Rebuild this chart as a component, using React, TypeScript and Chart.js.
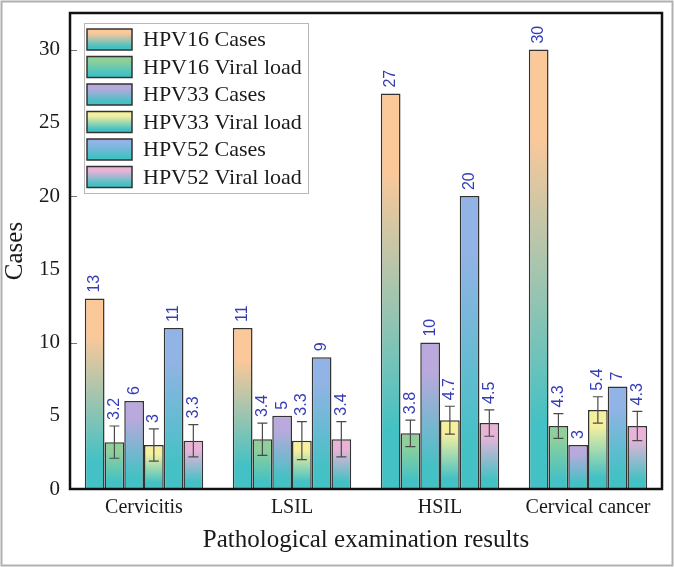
import React, { useEffect, useRef } from "react";
import { Chart, registerables } from "chart.js";

Chart.register(...registerables);

const categories = ["Cervicitis", "LSIL", "HSIL", "Cervical cancer"];
const seriesNames = [
  "HPV16 Cases",
  "HPV16 Viral load",
  "HPV33 Cases",
  "HPV33 Viral load",
  "HPV52 Cases",
  "HPV52 Viral load",
];
const hpv16Cases = [13, 11, 27, 30];
const hpv16Load = [3.2, 3.4, 3.8, 4.3];
const hpv33Cases = [6, 5, 10, 3];
const hpv33Load = [3, 3.3, 4.7, 5.4];
const hpv52Cases = [11, 9, 20, 7];
const hpv52Load = [3.3, 3.4, 4.5, 4.3];
const hpv16LoadErr = [1.1, 1.1, 0.9, 0.85];
const hpv33LoadErr = [1.1, 1.3, 0.95, 0.9];
const hpv52LoadErr = [1.1, 1.2, 0.9, 1.0];
const yTicks = [0, 5, 10, 15, 20, 25, 30];
const yMarks = [0, 10, 20, 30];
const yMax = 32.5;

const topColors = ["#fbc89a", "#8fd09a", "#b9a9dd", "#f6f09e", "#92b3e5", "#e9b3d8"];
const baseColor = "#44c1c4";

const seriesValues = [hpv16Cases, hpv16Load, hpv33Cases, hpv33Load, hpv52Cases, hpv52Load];
const seriesErrors: (number[] | null)[] = [null, hpv16LoadErr, null, hpv33LoadErr, null, hpv52LoadErr];

const SERIF = "'Liberation Serif', 'Times New Roman', serif";
const SANS = "'Liberation Sans', Arial, sans-serif";

function makeGradient(ctx: CanvasRenderingContext2D, top: number, bottom: number, color: string) {
  const g = ctx.createLinearGradient(0, top, 0, bottom);
  g.addColorStop(0, color);
  g.addColorStop(0.2, color);
  g.addColorStop(0.85, baseColor);
  g.addColorStop(1, baseColor);
  return g;
}

const decorPlugin = {
  id: "decor",
  beforeDraw(chart: any) {
    const ctx = chart.ctx;
    ctx.save();
    ctx.fillStyle = "#ffffff";
    ctx.fillRect(0, 0, chart.width, chart.height);
    ctx.strokeStyle = "#b0b0b0";
    ctx.lineWidth = 2;
    ctx.strokeRect(1.5, 1.5, chart.width - 3, chart.height - 3);
    ctx.restore();
  },
  afterDatasetsDraw(chart: any) {
    const ctx = chart.ctx;
    const y = chart.scales.y;
    ctx.save();
    chart.data.datasets.forEach((ds: any, di: number) => {
      const errs = seriesErrors[di];
      const meta = chart.getDatasetMeta(di);
      meta.data.forEach((bar: any, i: number) => {
        const v = ds.data[i];
        let topPx = y.getPixelForValue(v);
        if (errs) {
          const e = errs[i];
          const yt = y.getPixelForValue(v + e);
          const yb = y.getPixelForValue(v - e);
          ctx.strokeStyle = "#4a4a4a";
          ctx.lineWidth = 1.2;
          ctx.beginPath();
          ctx.moveTo(bar.x, yt);
          ctx.lineTo(bar.x, yb);
          ctx.moveTo(bar.x - 5, yt);
          ctx.lineTo(bar.x + 5, yt);
          ctx.moveTo(bar.x - 5, yb);
          ctx.lineTo(bar.x + 5, yb);
          ctx.stroke();
          topPx = Math.min(topPx, yt);
        }
        ctx.save();
        ctx.translate(bar.x, topPx - 6);
        ctx.rotate(-Math.PI / 2);
        ctx.font = `16px ${SANS}`;
        ctx.fillStyle = "#353cb5";
        ctx.textAlign = "left";
        ctx.textBaseline = "middle";
        ctx.fillText(String(v), 0, 0);
        ctx.restore();
      });
    });
    ctx.restore();
  },
  afterDraw(chart: any) {
    const ctx = chart.ctx;
    const a = chart.chartArea;
    const y = chart.scales.y;
    ctx.save();
    ctx.strokeStyle = "#777";
    ctx.lineWidth = 1;
    yMarks.forEach((t) => {
      const py = Math.round(y.getPixelForValue(t)) + 0.5;
      ctx.beginPath();
      ctx.moveTo(a.left, py);
      ctx.lineTo(a.left + 7, py);
      ctx.stroke();
    });
    ctx.strokeStyle = "#111";
    ctx.lineWidth = 2.5;
    ctx.strokeRect(a.left, a.top, a.right - a.left, a.bottom - a.top);

    const lx = a.left + 14;
    const ly = a.top + 10;
    const lw = 224;
    const lh = 170;
    ctx.fillStyle = "#ffffff";
    ctx.fillRect(lx, ly, lw, lh);
    ctx.strokeStyle = "#b8b8b8";
    ctx.lineWidth = 1;
    ctx.strokeRect(lx + 0.5, ly + 0.5, lw, lh);
    seriesNames.forEach((name, i) => {
      const sx = lx + 3;
      const sy = ly + 6 + i * 27.5;
      const sw = 45;
      const sh = 21;
      ctx.fillStyle = makeGradient(ctx, sy, sy + sh, topColors[i]);
      ctx.fillRect(sx, sy, sw, sh);
      ctx.strokeStyle = "#333";
      ctx.lineWidth = 1.5;
      ctx.strokeRect(sx, sy, sw, sh);
      ctx.fillStyle = "#1a1a1a";
      ctx.font = `22px ${SERIF}`;
      ctx.textAlign = "left";
      ctx.textBaseline = "middle";
      ctx.fillText(name, lx + 59, sy + sh / 2 + 1);
    });
    ctx.restore();
  },
};

export default function App() {
  const ref = useRef<HTMLCanvasElement | null>(null);

  useEffect(() => {
    if (!ref.current) return;
    const datasets = seriesNames.map((name, si) => ({
      label: name,
      data: seriesValues[si],
      backgroundColor: (c: any) => {
        const chart = c.chart;
        const ys = chart.scales && chart.scales.y;
        if (!chart.chartArea || !ys || c.raw === undefined) return topColors[si];
        const top = ys.getPixelForValue(c.raw);
        const bottom = ys.getPixelForValue(0);
        if (!isFinite(top) || !isFinite(bottom) || bottom - top < 1) return topColors[si];
        return makeGradient(chart.ctx, top, bottom, topColors[si]);
      },
      borderColor: "#333333",
      borderWidth: 1.5,
      categoryPercentage: 0.8,
      barPercentage: 1.0,
    }));

    const chart = new Chart(ref.current, {
      type: "bar",
      data: { labels: categories, datasets },
      options: {
        responsive: false,
        animation: false,
        events: [],
        layout: { padding: { top: 13, right: 12, left: 0, bottom: 0 } },
        plugins: {
          legend: { display: false },
          tooltip: { enabled: false },
        },
        scales: {
          x: {
            grid: { display: false, drawTicks: false },
            border: { display: false },
            ticks: {
              font: { family: SERIF, size: 20 },
              color: "#1a1a1a",
              padding: 7,
            },
            title: {
              display: true,
              text: "Pathological examination results",
              font: { family: SERIF, size: 25 },
              color: "#1a1a1a",
              padding: { top: 0, bottom: 12 },
            },
            afterFit: (s: any) => {
              s.height = 78;
              s.paddingLeft = 0;
              s.paddingRight = 0;
            },
          },
          y: {
            min: 0,
            max: yMax,
            grid: { display: false, drawTicks: false },
            border: { display: false },
            afterBuildTicks: (s: any) => {
              s.ticks = yTicks.map((v) => ({ value: v }));
            },
            ticks: {
              font: { family: SERIF, size: 21 },
              color: "#1a1a1a",
              padding: 10,
            },
            title: {
              display: true,
              text: "Cases",
              font: { family: SERIF, size: 25 },
              color: "#1a1a1a",
              padding: { top: 0, bottom: 0 },
            },
            afterFit: (s: any) => {
              s.width = 70;
              s.paddingTop = 0;
              s.paddingBottom = 0;
            },
          },
        },
      },
      plugins: [decorPlugin],
    });
    return () => chart.destroy();
  }, []);

  return (
    <div style={{ position: "absolute", left: 0, top: 0, width: 674, height: 567 }}>
      <canvas ref={ref} width={674} height={567} style={{ display: "block" }} />
    </div>
  );
}
